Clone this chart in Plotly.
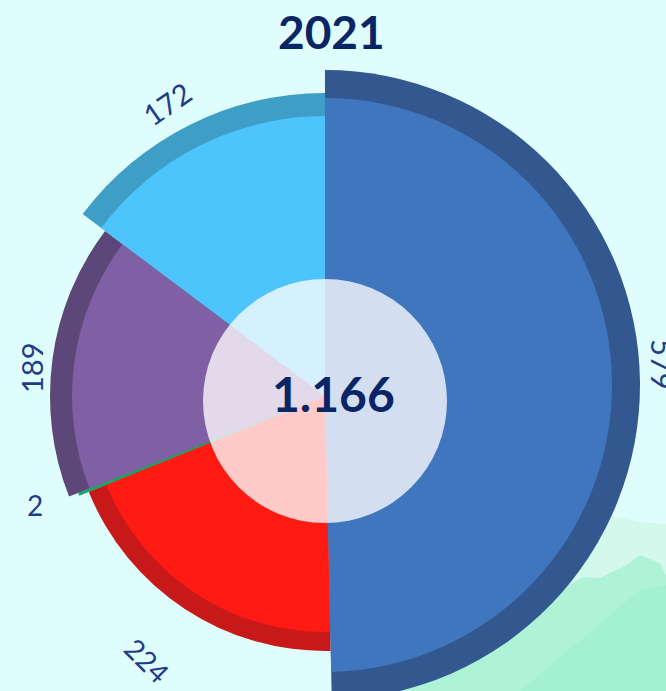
import plotly.graph_objects as go

W, H = 666, 691

title = "2021"
total_label = "1.166"
categories = ["A", "B", "C", "D", "E"]
values = [579, 224, 2, 189, 172]
labels = ["579", "224", "2", "189", "172"]

fill_colors = ["#4076BE", "#FF1A14", "#10A860", "#8060A5", "#4DC4FB"]
ring_colors = ["#33578F", "#C8191A", "#10A860", "#5C4778", "#3E9EC6"]
outer_px = [315, 255, 265, 275, 303]
inner_px = [287, 236, 265, 253, 280]

CX = 325
CIRCLE_CY = 401            # centre of the pale disc
LEFT_CY = 396              # centre of the smaller slices
BLUE_CY = 385              # the largest slice sits slightly higher
HALF = 285


def fx(p):
    return p / W


def fy(p):
    return 1 - p / H


def domain(cx, cy, half):
    return dict(x=[fx(cx - half), fx(cx + half)], y=[fy(cy + half), fy(cy - half)])


total = sum(values)
widths = [v / total * 360 for v in values]
centers = []
acc = 0
for w in widths:
    centers.append(acc + w / 2)
    acc += w

fig = go.Figure()


def add_slice(i, subplot):
    for radius, color in ((outer_px[i], ring_colors[i]), (inner_px[i], fill_colors[i])):
        fig.add_trace(go.Barpolar(
            r=[radius], theta=[centers[i]], width=[widths[i]], base=0,
            marker=dict(color=color, line=dict(width=0)),
            subplot=subplot, showlegend=False, name=categories[i], hoverinfo="skip"))


add_slice(0, "polar")
for i in range(1, 5):
    add_slice(i, "polar2")


def polar_layout(cy):
    return dict(
        domain=domain(CX, cy, HALF), bgcolor="rgba(0,0,0,0)", barmode="overlay",
        radialaxis=dict(visible=False, range=[0, HALF]),
        angularaxis=dict(visible=False, direction="clockwise", rotation=90),
    )


def poly(points):
    return "M " + " L ".join(f"{fx(x):.4f},{fy(y):.4f}" for x, y in points) + " Z"


shapes = [
    dict(type="path", xref="paper", yref="paper", layer="below", line_width=0, fillcolor="#D2F9EC",
         path=poly([(380, 691), (560, 590), (612, 516), (640, 522), (666, 524), (666, 691)])),
    dict(type="path", xref="paper", yref="paper", layer="below", line_width=0, fillcolor="#AEF3D6",
         path=poly([(380, 691), (583, 577), (600, 578), (627, 565), (640, 555), (660, 563), (666, 575), (666, 691)])),
    dict(type="path", xref="paper", yref="paper", layer="below", line_width=0, fillcolor="#A3F1CF",
         path=poly([(520, 691), (640, 590), (666, 585), (666, 691)])),
    dict(type="circle", xref="paper", yref="paper", layer="above", line_width=0,
         fillcolor="rgba(255,255,255,0.77)",
         x0=fx(CX - 122), x1=fx(CX + 122), y0=fy(CIRCLE_CY + 122), y1=fy(CIRCLE_CY - 122)),
]

NAVY = "#0A2566"
LABEL = "#1F3C88"


def note(text, x, y, size, color, bold=False, angle=0):
    return dict(text=f"<b>{text}</b>" if bold else text, x=fx(x), y=fy(y), xref="paper", yref="paper",
                xanchor="center", yanchor="middle", showarrow=False, textangle=angle,
                font=dict(family="Lato", size=size, color=color))


annotations = [
    note(title, 331, 32, 46, NAVY, True),
    note(total_label, 333, 393, 48, NAVY, True),
    note(labels[4], 167, 104, 29, LABEL, angle=-35),
    note(labels[3], 31, 368, 29, LABEL, angle=-90),
    note(labels[2], 35, 505, 28, LABEL),
    note(labels[1], 147, 660, 28, LABEL, angle=45),
    note(labels[0], 663, 364, 29, LABEL, angle=90),
]

fig.update_layout(
    width=W, height=H, margin=dict(l=0, r=0, t=0, b=0), autosize=False,
    paper_bgcolor="#E0FDFD", plot_bgcolor="#E0FDFD", showlegend=False,
    polar=polar_layout(BLUE_CY), polar2=polar_layout(LEFT_CY),
    shapes=shapes, annotations=annotations,
)

# page margin off; polar bars may reach past the radial range, as the original slices do
post = """
document.documentElement.style.margin = '0';
document.body.style.margin = '0';
document.documentElement.style.overflow = 'hidden';
function unclip() {
  document.querySelectorAll('.polarlayer [clip-path]').forEach(function (el) {
    el.removeAttribute('clip-path');
  });
}
unclip();
[0, 50, 200, 500].forEach(function (t) { setTimeout(unclip, t); });
"""

fig.write_html("out.html", config=dict(displayModeBar=False), post_script=post)
